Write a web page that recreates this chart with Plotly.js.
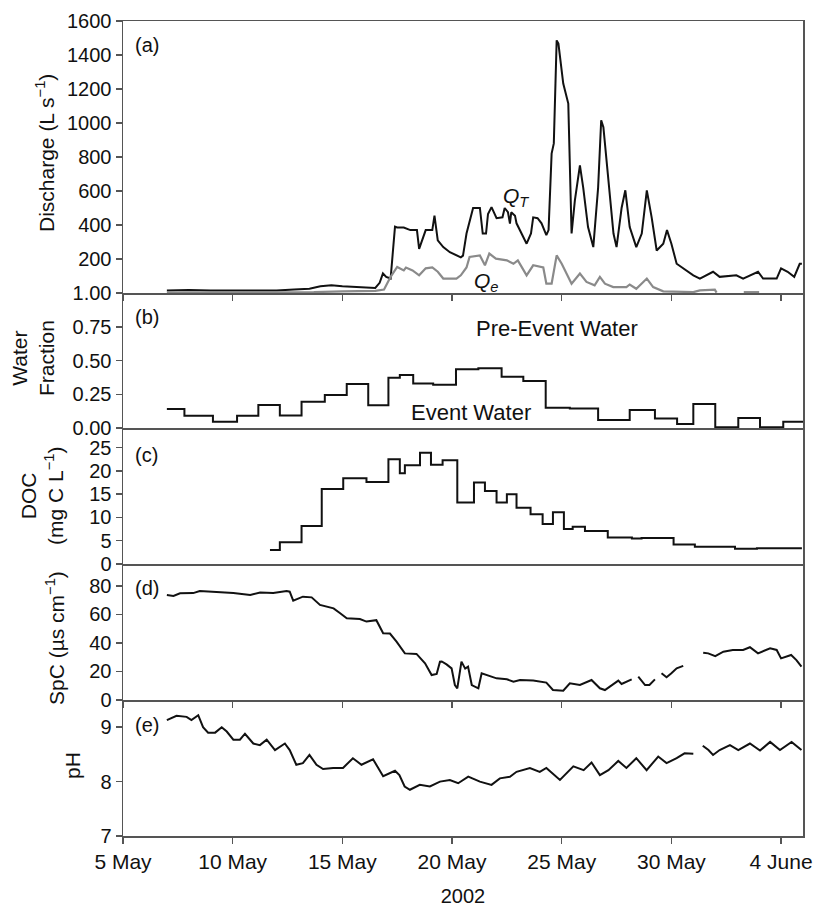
<!DOCTYPE html>
<html>
<head>
<meta charset="utf-8">
<script src="https://cdn.plot.ly/plotly-3.0.1.min.js"></script>
<style>html,body{margin:0;padding:0;background:#fff;}#chart{width:815px;height:907px;}</style>
</head>
<body>
<div id="chart"></div>
<script>
// Day numbers counted from 1 May 2002 (June d = 31 + d)
const qtDay = [7.0, 8.0, 9.0, 10.0, 11.0, 12.0, 12.8, 13.5, 14.0, 14.5, 15.0, 15.5, 16.0, 16.5, 16.7, 16.85, 17.0, 17.2, 17.4, 17.5, 17.8, 18.1, 18.4, 18.5, 18.8, 19.1, 19.2, 19.35, 19.6, 19.9, 20.4, 20.5, 20.66, 20.96, 21.27, 21.4, 21.55, 21.64, 21.8, 22.03, 22.3, 22.4, 22.55, 22.64, 22.7, 22.87, 22.94, 23.17, 23.4, 23.6, 23.7, 23.9, 24.08, 24.3, 24.4, 24.54, 24.64, 24.77, 24.85, 25.07, 25.3, 25.45, 25.6, 25.83, 25.98, 26.2, 26.44, 26.66, 26.8, 26.9, 27.1, 27.36, 27.5, 27.73, 27.9, 28.1, 28.4, 28.65, 28.88, 29.1, 29.33, 29.63, 29.8, 30.0, 30.24, 30.7, 31.0, 31.3, 31.9, 32.2, 32.96, 33.27, 33.95, 34.18, 34.8, 35.0, 35.3, 35.6, 35.85, 35.95];
const qtVal = [15, 18, 15, 15, 15, 15, 20, 25, 40, 45, 40, 38, 35, 30, 60, 115, 95, 85, 390, 385, 385, 370, 370, 260, 370, 370, 455, 310, 270, 240, 210, 220, 350, 500, 500, 350, 350, 465, 505, 440, 445, 500, 475, 408, 475, 455, 410, 350, 290, 350, 445, 440, 410, 340, 370, 820, 880, 1486, 1467, 1232, 1114, 350, 545, 751, 620, 388, 270, 620, 1016, 975, 682, 350, 270, 500, 604, 388, 270, 350, 604, 445, 250, 290, 370, 290, 172, 133, 104, 85, 125, 95, 104, 85, 125, 85, 85, 145, 125, 95, 172, 172];

const qeDay = [7.0, 10.0, 13.7, 15.0, 16.5, 16.9, 17.2, 17.5, 17.8, 17.9, 18.2, 18.5, 18.8, 19.1, 19.35, 19.6, 20.2, 20.4, 20.66, 20.8, 21.27, 21.5, 21.7, 22.0, 22.5, 22.8, 23.0, 23.4, 23.7, 24.16, 24.3, 24.54, 24.77, 25.0, 25.23, 25.45, 25.83, 26.13, 26.5, 26.74, 26.97, 27.35, 27.95, 28.1, 28.4, 28.88, 29.17, 29.63, 31.0, 31.3, 31.98, 32.06, 32.7, 33.3, 34.0];
const qeVal = [3, 3, 5, 10, 12, 20, 95, 153, 133, 150, 133, 104, 145, 150, 125, 85, 85, 104, 150, 212, 221, 163, 232, 202, 192, 172, 192, 104, 163, 150, 55, 55, 221, 172, 114, 55, 114, 65, 45, 95, 55, 35, 35, 50, 25, 85, 35, 10, 5, 15, 20, 2, null, 5, 5];

const wfStart = [7.0, 7.8, 9.1, 10.2, 11.17, 12.15, 13.14, 14.2, 15.2, 16.18, 17.1, 17.62, 18.23, 19.14, 20.18, 21.2, 22.26, 23.25, 24.27, 25.37, 26.66, 28.1, 29.25, 30.26, 31.0, 32.0, 33.05, 34.04, 35.1, 36.0];
const wfVal = [0.14, 0.09, 0.047, 0.09, 0.17, 0.093, 0.195, 0.244, 0.326, 0.168, 0.373, 0.393, 0.33, 0.32, 0.435, 0.442, 0.38, 0.348, 0.15, 0.145, 0.059, 0.133, 0.07, 0.03, 0.178, 0.005, 0.074, 0.005, 0.047, 0.047];

const docStart = [11.7, 12.15, 13.14, 14.06, 15.04, 16.1, 17.1, 17.62, 17.85, 18.54, 19.04, 19.57, 20.24, 21.0, 21.5, 22.03, 22.5, 22.94, 23.58, 24.13, 24.6, 25.1, 25.5, 26.06, 27.1, 28.2, 28.64, 30.1, 31.07, 32.9, 33.9, 35.95];
const docVal = [3.0, 4.65, 8.15, 16.1, 18.4, 17.6, 22.5, 19.5, 21.2, 23.9, 21.3, 22.3, 13.2, 17.5, 15.7, 13.2, 15.0, 12.1, 10.7, 8.6, 11.1, 7.5, 8.0, 7.1, 5.7, 5.45, 5.6, 4.2, 3.7, 3.3, 3.4, 3.4];

const spcDay = [7.0, 7.3, 7.6, 8.2, 8.5, 9.27, 10.03, 10.8, 11.25, 11.85, 12.46, 12.6, 12.76, 13.2, 13.6, 13.98, 14.6, 14.9, 15.2, 15.8, 16.1, 16.55, 16.86, 17.17, 17.47, 17.85, 18.38, 18.77, 19.07, 19.3, 19.45, 19.53, 19.75, 19.98, 20.13, 20.24, 20.36, 20.43, 20.6, 20.73, 20.9, 21.04, 21.2, 21.35, 21.58, 22.03, 22.5, 22.8, 23.1, 23.7, 24.3, 24.6, 25.07, 25.37, 25.83, 26.36, 26.74, 26.97, 27.58, 27.73, 28.19, 28.3, 28.49, 28.8, 29.0, 29.25, 29.4, 29.55, 29.78, 30.0, 30.24, 30.54, 31.0, 31.45, 31.68, 32.0, 32.37, 32.8, 33.27, 33.58, 33.95, 34.5, 34.8, 35.0, 35.46, 35.7, 35.93];
const spcVal = [73.7, 73, 74.9, 75, 76.5, 76, 75, 73.7, 75.4, 75, 76.5, 76, 69.7, 72.5, 72, 66.7, 64.3, 60.8, 57.3, 56.8, 55, 56, 46.8, 46.6, 41, 32.7, 32.3, 25.7, 17.5, 18.3, 26.9, 27, 25, 22.2, 10.5, 8.2, 21, 26.9, 22, 23.4, 10.5, 9.4, 8.2, 18.7, 17.5, 15.2, 14.5, 12.9, 14, 13.6, 12.2, 7, 6.5, 11.7, 10.5, 14, 8.2, 7, 13.6, 11.2, 14.5, null, 16.4, 10.5, 10.5, 14.5, null, 18.7, 15.9, 18.7, 22.2, 23.9, null, 33.2, 32.7, 30.8, 33.9, 35.1, 35.1, 37, 32.7, 36.3, 35.1, 29.2, 31.6, 28, 23.4];

const phDay = [7.0, 7.44, 7.9, 8.12, 8.43, 8.65, 8.88, 9.2, 9.5, 9.73, 10.03, 10.33, 10.56, 10.94, 11.24, 11.55, 11.93, 12.38, 12.6, 12.9, 13.2, 13.5, 13.82, 14.12, 14.58, 15.03, 15.48, 15.87, 16.4, 16.86, 17.4, 17.6, 17.84, 18.08, 18.53, 18.99, 19.45, 19.9, 20.28, 20.74, 21.27, 21.8, 22.18, 22.64, 22.94, 23.55, 24.0, 24.3, 24.92, 25.23, 25.53, 26.0, 26.36, 26.74, 27.13, 27.58, 27.95, 28.4, 28.87, 29.4, 29.78, 30.24, 30.6, 31.0, 31.2, 31.43, 31.69, 31.9, 32.2, 32.67, 33.05, 33.58, 34.04, 34.5, 34.95, 35.48, 35.93];
const phVal = [9.13, 9.21, 9.19, 9.13, 9.22, 9.0, 8.9, 8.9, 9.0, 8.92, 8.77, 8.77, 8.88, 8.70, 8.67, 8.77, 8.58, 8.70, 8.58, 8.31, 8.34, 8.49, 8.31, 8.23, 8.25, 8.25, 8.43, 8.31, 8.41, 8.10, 8.20, 8.12, 7.91, 7.85, 7.94, 7.91, 8.0, 8.03, 7.97, 8.09, 8.0, 7.94, 8.06, 8.09, 8.18, 8.25, 8.18, 8.25, 8.03, 8.15, 8.28, 8.21, 8.35, 8.12, 8.21, 8.38, 8.25, 8.43, 8.21, 8.46, 8.34, 8.43, 8.52, 8.51, null, 8.66, 8.58, 8.49, 8.58, 8.67, 8.58, 8.70, 8.57, 8.73, 8.58, 8.73, 8.58];

const xTickDays = [5, 10, 15, 20, 25, 30, 35];
const xTickText = ['5 May', '10 May', '15 May', '20 May', '25 May', '30 May', '4 June'];
const xRangeDays = [5, 36];

function toDate(d) {
  const ms = Date.UTC(2002, 4, 1) + (d - 1) * 86400000;
  return new Date(ms).toISOString().slice(0, 19).replace('T', ' ');
}
const D = a => a.map(toDate);

const black = '#111111';
const traces = [
  {x: D(qtDay), y: qtVal, xaxis: 'x', yaxis: 'y', mode: 'lines', line: {color: black, width: 2}},
  {x: D(qeDay), y: qeVal, xaxis: 'x', yaxis: 'y', mode: 'lines', line: {color: '#8a8a8a', width: 2.2}},
  {x: D(wfStart), y: wfVal, xaxis: 'x2', yaxis: 'y2', mode: 'lines', line: {color: black, width: 2, shape: 'hv'}},
  {x: D(docStart), y: docVal, xaxis: 'x3', yaxis: 'y3', mode: 'lines', line: {color: black, width: 2, shape: 'hv'}},
  {x: D(spcDay), y: spcVal, xaxis: 'x4', yaxis: 'y4', mode: 'lines', line: {color: black, width: 2}},
  {x: D(phDay), y: phVal, xaxis: 'x5', yaxis: 'y5', mode: 'lines', line: {color: black, width: 2}}
];

const axCol = '#555555';
const FAM = 'Liberation Sans, Arial, sans-serif';
const tickFont = {family: FAM, size: 20, color: '#111'};
const range = D(xRangeDays);
function xax(anchor, showTicks, extra) {
  return Object.assign({
    type: 'date', range: range, anchor: anchor, showgrid: false, zeroline: false,
    showline: true, linecolor: axCol, linewidth: 1.5,
    ticks: showTicks ? 'outside' : '', ticklen: 6, tickcolor: axCol, tickwidth: 1.5,
    tickvals: D(xTickDays), ticktext: xTickText, showticklabels: false,
    tickfont: {family: FAM, size: 21, color: '#111'}
  }, extra || {});
}
function yax(dom, rng, tv, tt, extra) {
  return Object.assign({
    domain: dom, range: rng, showgrid: false, zeroline: false,
    showline: true, linecolor: axCol, linewidth: 1.5, mirror: true,
    ticks: 'outside', ticklen: 6, tickcolor: axCol, tickwidth: 1.5,
    tickvals: tv, ticktext: tt, tickfont: tickFont
  }, extra || {});
}
const PW = 680, PH = 815, L = 123, T = 21;
const px = v => (v - L) / PW;
const py = v => (T + PH - v) / PH;

const annFont = {family: FAM, size: 21, color: '#111'};
function ann(text, x, y, opts) {
  return Object.assign({text: text, xref: 'paper', yref: 'paper', x: px(x), y: py(y), showarrow: false,
    font: annFont, xanchor: 'center', yanchor: 'middle'}, opts || {});
}
const lblFont = {family: FAM, size: 20, color: '#111'};
const bigFont = {family: FAM, size: 22, color: '#111'};

const layout = {
  width: 815, height: 907,
  margin: {l: L, r: 815 - L - PW, t: T, b: 907 - T - PH},
  paper_bgcolor: '#fff', plot_bgcolor: '#fff', showlegend: false,
  font: {family: FAM, color: '#111'},
  xaxis: xax('y', true, {mirror: true}),
  xaxis2: xax('y2', false, {matches: 'x'}),
  xaxis3: xax('y3', false, {matches: 'x'}),
  xaxis4: xax('y4', true, {matches: 'x'}),
  xaxis5: xax('y5', true, {matches: 'x', showticklabels: true,
    title: {text: '2002', font: {family: FAM, size: 20, color: '#111'}, standoff: 20}}),
  yaxis: yax([py(293), 1], [0, 1600], [200, 400, 600, 800, 1000, 1200, 1400, 1600], null),
  yaxis2: yax([py(428), py(293)], [0, 1], [0, 0.25, 0.5, 0.75, 1], ['0.00', '0.25', '0.50', '0.75', '1.00']),
  yaxis3: yax([py(564), py(428)], [0, 29.2], [0, 5, 10, 15, 20, 25], null),
  yaxis4: yax([py(700), py(564)], [0, 95.4], [0, 20, 40, 60, 80], null),
  yaxis5: yax([0, py(700)], [7, 9.5], [7, 8, 9], null),
  annotations: [
    ann('Discharge (L s<sup>−1</sup>)', 45, 153, {textangle: -90}),
    ann('Water<br>Fraction', 33, 358, {textangle: -90}),
    ann('DOC<br>(mg C L<sup>−1</sup>)', 42, 496, {textangle: -90}),
    ann('SpC (µs cm<sup>−1</sup>)', 55, 638, {textangle: -90}),
    ann('pH', 72, 766, {textangle: -90}),
    ann('(a)', 133, 45, {xanchor: 'left', font: lblFont}),
    ann('(b)', 133, 317, {xanchor: 'left', font: lblFont}),
    ann('(c)', 133, 455, {xanchor: 'left', font: lblFont}),
    ann('(d)', 133, 588, {xanchor: 'left', font: lblFont}),
    ann('(e)', 133, 725, {xanchor: 'left', font: lblFont}),
    ann('<i>Q<sub>T</sub></i>', 516, 197),
    ann('<i>Q<sub>e</sub></i>', 486, 282),
    ann('Pre-Event Water', 557, 328, {font: bigFont}),
    ann('Event Water', 471, 412, {font: bigFont})
  ]
};

Plotly.newPlot('chart', traces, layout, {staticPlot: true, displayModeBar: false});
</script>
</body>
</html>
